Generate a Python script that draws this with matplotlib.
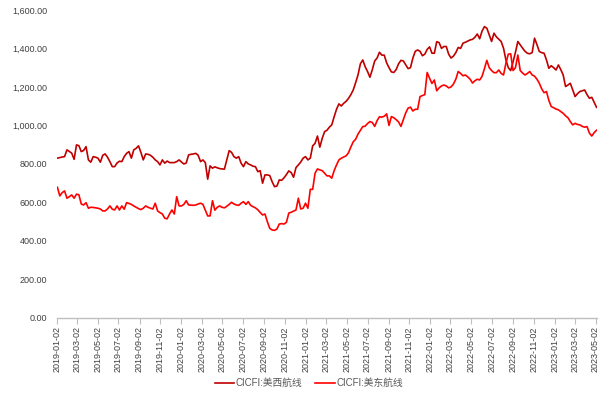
import numpy as np
import pandas as pd
import matplotlib
matplotlib.use("Agg")
import matplotlib.pyplot as plt
import matplotlib.dates as mdates
from matplotlib.ticker import FuncFormatter

plt.rcParams['font.family'] = ['Liberation Sans', 'Noto Sans CJK SC', 'DejaVu Sans']

# weekly index values, first week 2019-01-04
start_date = '2019-01-04'
west_label = 'CICFI:美西航线'
east_label = 'CICFI:美东航线'

west = [
    830, 833, 836, 838, 873, 865, 856, 824, 899, 895,
    864, 870, 890, 821, 809, 838, 835, 830, 809, 845,
    852, 835, 812, 786, 786, 805, 814, 812, 838, 855,
    864, 830, 873, 881, 894, 860, 821, 852, 850, 845,
    835, 821, 812, 795, 821, 804, 815, 807, 807, 807,
    812, 821, 810, 800, 805, 847, 850, 852,
    855, 845, 812, 821, 807, 721, 790, 778, 785, 780,
    776, 774, 773, 821, 869, 860, 838, 830, 838, 804,
    786, 812, 800, 795, 788, 786, 760, 765, 700, 743,
    743, 740, 708, 682, 685, 717, 715, 728, 745, 764,
    755, 731, 781, 795, 810, 830, 838, 821, 830, 894,
    907, 945, 887, 933, 968, 975, 991, 1003, 1045,
    1084, 1112, 1101, 1115, 1125, 1140, 1160, 1184, 1222, 1262,
    1320, 1340, 1305, 1280, 1250, 1290, 1335, 1350, 1380, 1365,
    1365, 1325, 1300, 1278, 1275, 1290, 1320, 1338, 1335, 1315,
    1295, 1300, 1350, 1385, 1392, 1385, 1362, 1370, 1395, 1408,
    1375, 1375, 1435, 1430, 1400, 1410, 1410, 1370, 1350, 1360,
    1378, 1405, 1400, 1427, 1432, 1438, 1444, 1447, 1458,
    1475, 1450, 1490, 1513, 1505, 1470, 1436, 1479, 1460, 1448,
    1436, 1401, 1340, 1300, 1285, 1330, 1380, 1436, 1418, 1401,
    1385, 1375, 1372, 1378, 1453, 1420, 1384, 1378, 1375, 1340,
    1297, 1310, 1300, 1288, 1314, 1290, 1262, 1202, 1210, 1219,
    1185, 1150, 1165, 1176, 1180, 1184, 1160, 1141, 1146, 1120,
    1094,
]

east = [
    679, 634, 651, 660, 622, 630, 639, 622, 643, 640,
    592, 587, 599, 570, 575, 574, 572, 570, 566, 556,
    556, 566, 582, 565, 561, 582, 561, 582, 565, 599,
    595, 590, 582, 575, 568, 563, 570, 582, 575, 570,
    566, 596, 556, 547, 540, 518, 515, 540, 561, 540,
    630, 582, 582, 590, 609, 587, 586, 585,
    587, 592, 596, 590, 560, 530, 530, 609, 560, 575,
    582, 575, 572, 580, 590, 601, 592, 587, 585, 596,
    604, 590, 604, 585, 578, 572, 562, 548, 535, 540,
    500, 466, 457, 455, 462, 488, 490, 488, 497, 545,
    549, 555, 561, 622, 566, 570, 596, 570, 668, 668,
    752, 774, 769, 765, 752, 738, 738, 726, 765,
    795, 821, 830, 836, 842, 858, 888, 915, 928, 955,
    975, 994, 996, 1010, 1020, 1015, 995, 1025, 1045, 1043,
    1048, 1060, 1000, 1046, 1040, 1030, 1018, 995, 1030, 1065,
    1090, 1095, 1075, 1084, 1084, 1150, 1155, 1160, 1275, 1245,
    1218, 1236, 1180, 1195, 1205, 1210, 1205, 1195, 1200, 1215,
    1240, 1280, 1270, 1258, 1262, 1252, 1240, 1220, 1232,
    1240, 1236, 1255, 1295, 1338, 1300, 1285, 1274, 1274, 1288,
    1270, 1262, 1323, 1370, 1372, 1285, 1300, 1366, 1285, 1272,
    1262, 1270, 1280, 1262, 1256, 1240, 1219, 1190, 1170, 1176,
    1130, 1098, 1092, 1085, 1081, 1072, 1063, 1050, 1040, 1020,
    1003, 1011, 1005, 1003, 995, 991, 994, 960, 945, 963,
    975,
]

dates = pd.date_range(start_date, periods=len(west), freq='7D')
tick_dates = pd.date_range('2019-01-01', '2023-05-01', freq='2MS') + pd.Timedelta(days=1)

fig = plt.figure(figsize=(6.06, 3.96), dpi=100)
ax = fig.add_axes([0.0936, 0.197, 0.8914, 0.778])

ax.plot(dates, west, color='#C00000', lw=1.2, label=west_label)
ax.plot(dates, east, color='#FF0000', lw=1.2, label=east_label)

ax.set_ylim(0, 1600)
ax.set_yticks(np.arange(0, 1601, 200))
ax.yaxis.set_major_formatter(FuncFormatter(lambda v, p: f'{v:,.2f}'))
ax.set_xlim(pd.Timestamp('2019-01-02'), pd.Timestamp('2023-05-06'))
ax.set_xticks(tick_dates)
ax.xaxis.set_major_formatter(mdates.DateFormatter('%Y-%m-%d'))

for s in ['top', 'right', 'left']:
    ax.spines[s].set_visible(False)
ax.spines['bottom'].set_color('#BFBFBF')
ax.spines['bottom'].set_linewidth(1.0)

ax.tick_params(axis='y', length=0, pad=7, labelsize=6.5, labelcolor='#404040')
ax.tick_params(axis='x', length=4, color='#BFBFBF', pad=2, labelsize=6.5,
               labelcolor='#404040', labelrotation=90)

fig.legend(loc='center', bbox_to_anchor=(0.51, 0.033), ncol=2, frameon=False,
           fontsize=7, handlelength=2.0, handletextpad=0.2, columnspacing=1.3,
           labelcolor='#595959')

fig.savefig('out.png', dpi=100)
